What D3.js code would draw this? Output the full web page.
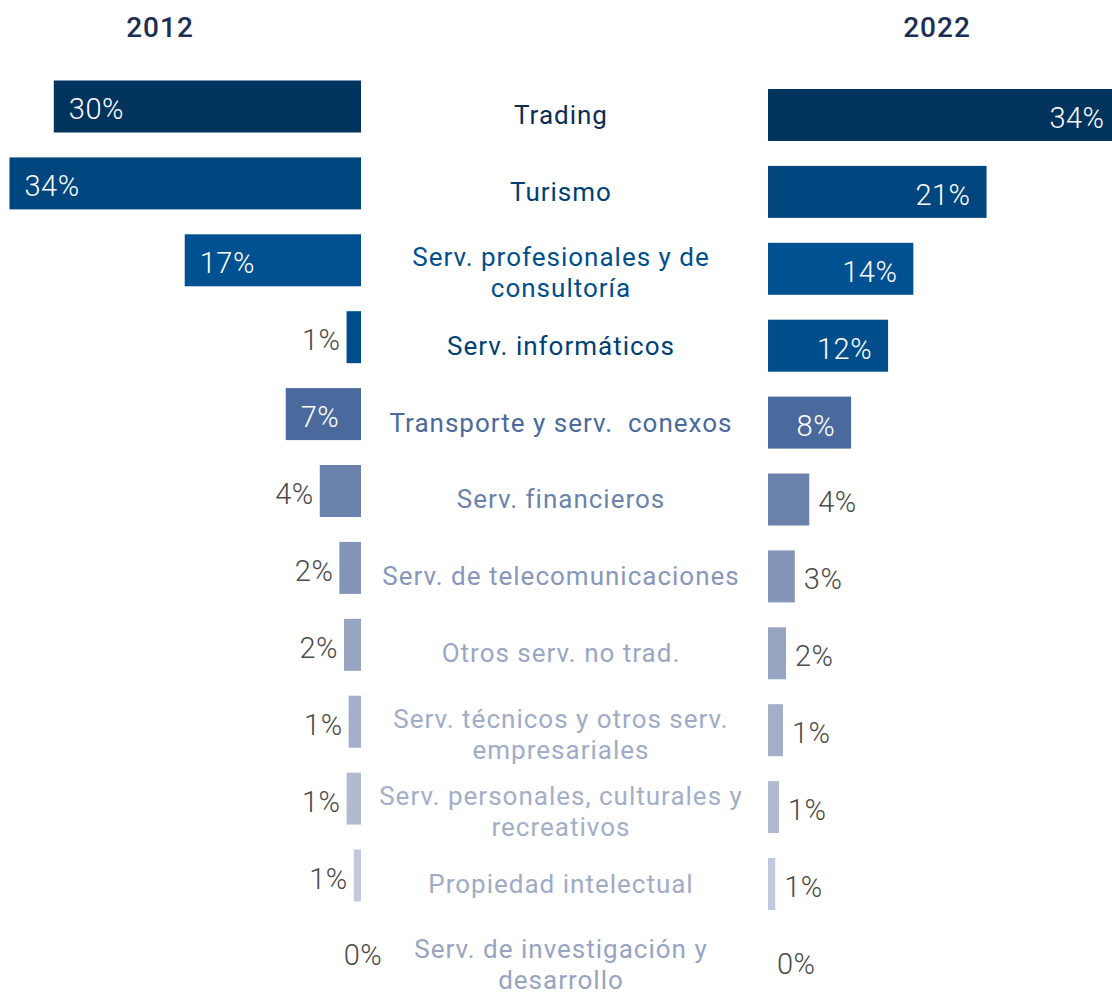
<!DOCTYPE html>
<html>
<head>
<meta charset="utf-8">
<script src="https://cdn.jsdelivr.net/npm/d3@7"></script>
<style>
  html, body { margin: 0; padding: 0; background: #fff; }
  svg { display: block; font-family: Roboto, "Noto Sans", sans-serif; }
  .cat { white-space: pre; }
</style>
</head>
<body>
<svg id="chart" width="1112" height="995"></svg>
<script>
// ---- data ----
const categories = [
  ["Trading"],
  ["Turismo"],
  ["Serv. profesionales y de", "consultoría"],
  ["Serv. informáticos"],
  ["Transporte y serv.  conexos"],
  ["Serv. financieros"],
  ["Serv. de telecomunicaciones"],
  ["Otros serv. no trad."],
  ["Serv. técnicos y otros serv.", "empresariales"],
  ["Serv. personales, culturales y", "recreativos"],
  ["Propiedad intelectual"],
  ["Serv. de investigación y", "desarrollo"]
];
const years = ["2012", "2022"];
const values2012 = [29.8, 34.1, 17.1, 1.4, 7.3, 4.0, 2.1, 1.65, 1.2, 1.4, 0.7, 0];
const values2022 = [34.2, 21.2, 14.1, 11.65, 8.06, 4.0, 2.6, 1.75, 1.45, 1.07, 0.7, 0];
const barColors = ["#00335e", "#00467e", "#005191", "#004d8c", "#4a6a9e", "#6b82ad",
                   "#8594b9", "#97a4c2", "#a3aec9", "#b2bad0", "#c3c9dc", "#d0d5e3"];
const labelColors = ["#0b2d55", "#003f76", "#004f8d", "#003f73", "#4a6a9c", "#6b82ad",
                     "#8797bc", "#9aa7c4", "#a0abc7", "#a3aec8", "#a0abc6", "#97a4c1"];

// ---- layout ----
const svg = d3.select("#chart");
const axisL = 361, axisR = 768;
const x = d3.scaleLinear().domain([0, 34]).range([0, 350.5]);
const idx = d3.range(categories.length);
const y = d3.scaleBand().domain(idx).range([89, 89 + 11 * 76.9 + 52]).paddingInner(0.324).paddingOuter(0);
const leftShift = -8.5;
const fmt = v => d3.format(".0f")(v) + "%";
const insideMin = 7;

// year titles
svg.selectAll("text.year").data(years).join("text")
  .attr("class", "year")
  .attr("x", (d, i) => i === 0 ? 160 : 937)
  .attr("y", 37)
  .attr("text-anchor", "middle")
  .attr("font-size", 28)
  .attr("font-weight", 500)
  .attr("letter-spacing", 1)
  .attr("fill", "#1b2f52")
  .text(d => d);

// left bars (2012)
svg.append("g").selectAll("rect").data(idx).join("rect")
  .attr("x", i => axisL - x(values2012[i]))
  .attr("y", i => y(i) + leftShift)
  .attr("width", i => x(values2012[i]))
  .attr("height", y.bandwidth())
  .attr("fill", i => barColors[i]);

// right bars (2022)
svg.append("g").selectAll("rect").data(idx).join("rect")
  .attr("x", axisR)
  .attr("y", i => y(i))
  .attr("width", i => x(values2022[i]))
  .attr("height", y.bandwidth())
  .attr("fill", i => barColors[i]);

// left value labels
svg.append("g").selectAll("text").data(idx).join("text")
  .attr("font-size", 29)
  .attr("font-weight", 300)
  .attr("letter-spacing", 0.5)
  .attr("dominant-baseline", "central")
  .attr("y", i => y(i) + leftShift + y.bandwidth() / 2 + 3)
  .each(function(i) {
    const v = values2012[i];
    const t = d3.select(this);
    if (v === 0) {
      t.attr("x", axisL + 2).attr("text-anchor", "middle").attr("fill", "#4a4a4a");
    } else if (v >= insideMin) {
      t.attr("x", axisL - x(v) + 15).attr("text-anchor", "start").attr("fill", "#ffffff");
    } else {
      t.attr("x", axisL - x(v) - 6).attr("text-anchor", "end").attr("fill", "#4a4a4a");
    }
  })
  .text(i => fmt(values2012[i]));

// right value labels
svg.append("g").selectAll("text").data(idx).join("text")
  .attr("font-size", 29)
  .attr("font-weight", 300)
  .attr("letter-spacing", 0.5)
  .attr("dominant-baseline", "central")
  .attr("y", i => y(i) + y.bandwidth() / 2 + 3)
  .each(function(i) {
    const v = values2022[i];
    const t = d3.select(this);
    if (v >= insideMin) {
      t.attr("x", axisR + x(v) - 16).attr("text-anchor", "end").attr("fill", "#ffffff");
    } else {
      t.attr("x", axisR + x(v) + 9).attr("text-anchor", "start").attr("fill", "#4a4a4a");
    }
  })
  .text(i => fmt(values2022[i]));

// category labels
const lineH = 31;
const cat = svg.append("g").selectAll("text").data(idx).join("text")
  .attr("class", "cat")
  .attr("text-anchor", "middle")
  .attr("font-size", 26)
  .attr("font-weight", 400)
  .attr("letter-spacing", 1)
  .attr("fill", i => labelColors[i])
  .attr("dominant-baseline", "central");
cat.each(function(i) {
  const lines = categories[i];
  const cy = y(i) + y.bandwidth() / 2 + (lines.length > 1 ? 4 : 0);
  const y0 = cy - (lines.length - 1) * lineH / 2;
  d3.select(this).selectAll("tspan").data(lines).join("tspan")
    .attr("x", 561)
    .attr("y", (d, k) => y0 + k * lineH)
    .text(d => d);
});
</script>
</body>
</html>
